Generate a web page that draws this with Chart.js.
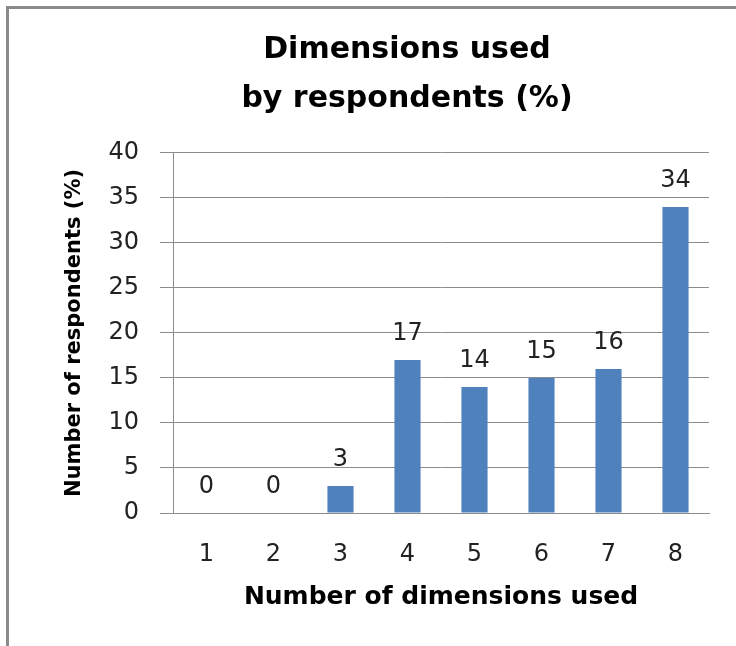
<!DOCTYPE html>
<html lang="en">
<head>
    <meta charset="UTF-8">
    <script src="https://cdn.jsdelivr.net/npm/chart.js@4"></script>
    <title>Dimensions used by respondents</title>
    <style>
        body { margin: 0; background: #fff; }
        #wrap { position: relative; width: 736px; height: 646px; }
        #frame { position: absolute; left: 6px; top: 6px; right: 0; bottom: 0;
                 border-left: 3px solid #8a8a8a; border-top: 3px solid #8a8a8a; }
        #myChart { position: absolute; left: 0; top: 0; }
    </style>
</head>
<body>
<div id="wrap">
    <div id="frame"></div>
    <canvas id="myChart" width="736" height="646"></canvas>
</div>
<script>
// chart data
var dimensions = ['1', '2', '3', '4', '5', '6', '7', '8'];
var respondents = [0, 0, 3, 17, 14, 15, 16, 34];
var yTicks = [0, 5, 10, 15, 20, 25, 30, 35, 40];

var gridColor = '#8c8c8c';
var textColor = '#222222';

// draw the value above each bar
var valueLabels = {
    id: 'valueLabels',
    afterDatasetsDraw: function(chart) {
        var ctx = chart.ctx;
        ctx.save();
        ctx.font = '24px "DejaVu Sans"';
        ctx.fillStyle = textColor;
        ctx.textAlign = 'center';
        ctx.textBaseline = 'alphabetic';
        chart.getDatasetMeta(0).data.forEach(function(bar, i) {
            ctx.fillText(String(respondents[i]), bar.x, bar.y - 20);
        });
        ctx.restore();
    }
};

var ctx = document.getElementById('myChart').getContext('2d');
var chart = new Chart(ctx, {
    type: 'bar',
    data: {
        labels: dimensions,
        datasets: [{
            label: 'Respondents (%)',
            data: respondents,
            backgroundColor: '#4f81bd',
            borderWidth: 0,
            barPercentage: 0.39,
            categoryPercentage: 1.0
        }]
    },
    options: {
        responsive: false,
        animation: false,
        devicePixelRatio: 1,
        // left padding pushes the main title right, the y title is pulled back with negative padding
        layout: { padding: { left: 105, right: 27, top: 0, bottom: 34 } },
        plugins: {
            legend: { display: false },
            tooltip: { enabled: false },
            title: {
                display: true,
                text: ['Dimensions used', 'by respondents (%)'],
                color: '#000',
                font: { family: '"DejaVu Sans"', size: 30, weight: 'bold', lineHeight: 1.633 },
                padding: { top: 26, bottom: 29 }
            }
        },
        scales: {
            x: {
                grid: { display: false },
                border: { display: true, color: gridColor, width: 1 },
                ticks: {
                    color: textColor,
                    font: { family: '"DejaVu Sans"', size: 24 },
                    padding: 19,
                    maxRotation: 0
                },
                title: {
                    display: true,
                    text: 'Number of dimensions used',
                    color: '#000',
                    font: { family: '"DejaVu Sans"', size: 25, weight: 'bold', lineHeight: 1.2 },
                    padding: { top: 15, bottom: 0 }
                },
                afterFit: function(scale) { scale.height = 133 - 34; }
            },
            y: {
                min: 0,
                max: 40,
                afterBuildTicks: function(scale) {
                    scale.ticks = yTicks.map(function(v) { return { value: v }; });
                },
                grid: { color: gridColor, lineWidth: 1, tickLength: 13, drawTicks: true },
                border: { display: true, color: gridColor, width: 1 },
                ticks: {
                    color: textColor,
                    font: { family: '"DejaVu Sans"', size: 24 },
                    padding: 21
                },
                title: {
                    display: true,
                    text: 'Number of respondents (%)',
                    color: '#000',
                    font: { family: '"DejaVu Sans"', size: 21, weight: 'bold', lineHeight: 1.2 },
                    padding: { top: -43, bottom: 0 }
                },
                afterFit: function(scale) { scale.width = 173 - 105; }
            }
        }
    },
    plugins: [valueLabels]
});
</script>
</body>
</html>
